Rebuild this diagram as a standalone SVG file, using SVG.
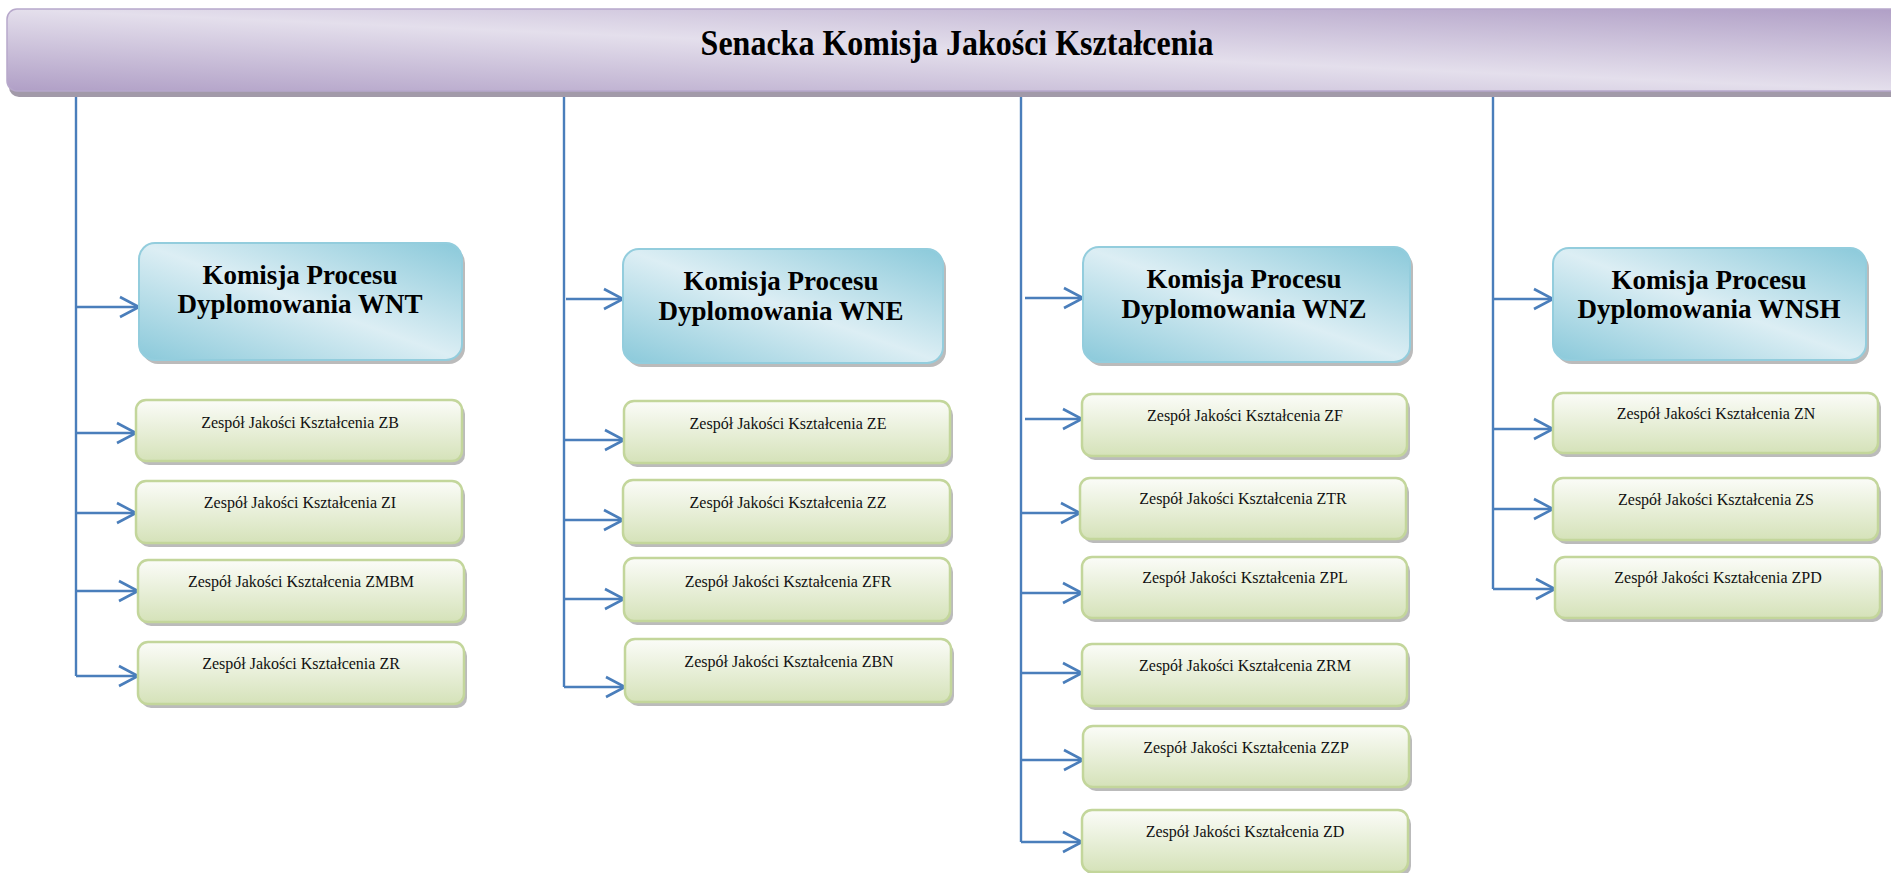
<svg xmlns="http://www.w3.org/2000/svg" width="1891" height="873" viewBox="0 0 1891 873">
<style>
.sh{fill:#8e8e8e;opacity:.6}
.g{fill:url(#gG);stroke:#c3d69b;stroke-width:2.5}
.b{fill:url(#gB);stroke:#93cddd;stroke-width:2}
.t{font-family:"Liberation Serif","Times New Roman",serif;font-size:16px;fill:#111;text-anchor:middle}
.h{font-family:"Liberation Serif","Times New Roman",serif;font-size:27px;font-weight:bold;fill:#000;text-anchor:middle}
.c{fill:none;stroke:#4a7ebb;stroke-width:2.4}
</style>
<defs>
<linearGradient id="gP" x1="0" y1="1" x2="1" y2="0">
<stop offset="0" stop-color="#b09fc6"/><stop offset="0.5" stop-color="#e4dfec"/><stop offset="1" stop-color="#b09fc6"/>
</linearGradient>
<linearGradient id="gB" x1="0" y1="1" x2="1" y2="0">
<stop offset="0" stop-color="#8ac9da"/><stop offset="0.5" stop-color="#dceef4"/><stop offset="1" stop-color="#8ac9da"/>
</linearGradient>
<linearGradient id="gG" x1="0" y1="0" x2="0" y2="1">
<stop offset="0" stop-color="#fbfcf8"/><stop offset="1" stop-color="#d5e2b9"/>
</linearGradient>
<marker id="ar" markerUnits="userSpaceOnUse" markerWidth="24" markerHeight="26" refX="21" refY="12" orient="auto">
<path d="M2,2 L21,12 L2,22" fill="none" stroke="#4a7ebb" stroke-width="2.6"/>
</marker>
</defs>
<rect width="1891" height="873" fill="#fff"/>

<g id="senat">
<rect x="9" y="13" width="1900" height="84" rx="10" fill="#a29aa9"/>
<rect x="7" y="9" width="1900" height="82" rx="10" fill="url(#gP)" stroke="#b7a8cb" stroke-width="1.5"/>
<text transform="translate(957,55) scale(1,1.12)" x="0" y="0" font-family="Liberation Serif,'Times New Roman',serif" font-size="32" font-weight="bold" text-anchor="middle" fill="#000">Senacka Komisja Jakości Kształcenia</text>
</g>

<g id="connectors">
<path class="c" d="M76,97 V676"/>
<path class="c" d="M77,307 H139" marker-end="url(#ar)"/>
<path class="c" d="M76,433 H136" marker-end="url(#ar)"/>
<path class="c" d="M76,513 H136" marker-end="url(#ar)"/>
<path class="c" d="M76,591 H138" marker-end="url(#ar)"/>
<path class="c" d="M76,676 H138" marker-end="url(#ar)"/>

<path class="c" d="M564,97 V687"/>
<path class="c" d="M566,299 H623" marker-end="url(#ar)"/>
<path class="c" d="M564,440 H624" marker-end="url(#ar)"/>
<path class="c" d="M564,520 H623" marker-end="url(#ar)"/>
<path class="c" d="M564,599 H624" marker-end="url(#ar)"/>
<path class="c" d="M564,687 H625" marker-end="url(#ar)"/>

<path class="c" d="M1021,97 V842"/>
<path class="c" d="M1025,298 H1083" marker-end="url(#ar)"/>
<path class="c" d="M1025,419 H1082" marker-end="url(#ar)"/>
<path class="c" d="M1021,513 H1080" marker-end="url(#ar)"/>
<path class="c" d="M1021,593 H1082" marker-end="url(#ar)"/>
<path class="c" d="M1021,673 H1082" marker-end="url(#ar)"/>
<path class="c" d="M1021,760 H1083" marker-end="url(#ar)"/>
<path class="c" d="M1021,842 H1082" marker-end="url(#ar)"/>

<path class="c" d="M1493,97 V589"/>
<path class="c" d="M1494,299 H1553" marker-end="url(#ar)"/>
<path class="c" d="M1493,429 H1553" marker-end="url(#ar)"/>
<path class="c" d="M1493,509 H1553" marker-end="url(#ar)"/>
<path class="c" d="M1493,589 H1555" marker-end="url(#ar)"/>
</g>

<g id="wnt">
<rect class="sh" x="142" y="247" width="323" height="117" rx="16"/>
<rect class="b" x="139" y="243" width="323" height="117" rx="16"/>
<text class="h" x="300" y="284">Komisja Procesu</text>
<text class="h" x="300" y="313">Dyplomowania WNT</text>
</g>
<g id="zb"><rect class="sh" x="139" y="404" width="326" height="61" rx="10"/><rect class="g" x="136" y="400" width="326" height="61" rx="10"/><text class="t" x="300" y="428">Zespół Jakości Kształcenia ZB</text></g>
<g id="zi"><rect class="sh" x="139" y="485" width="326" height="62" rx="10"/><rect class="g" x="136" y="481" width="326" height="62" rx="10"/><text class="t" x="300" y="508">Zespół Jakości Kształcenia ZI</text></g>
<g id="zmbm"><rect class="sh" x="141" y="564" width="326" height="62" rx="10"/><rect class="g" x="138" y="560" width="326" height="62" rx="10"/><text class="t" x="301" y="587">Zespół Jakości Kształcenia ZMBM</text></g>
<g id="zr"><rect class="sh" x="141" y="646" width="326" height="62" rx="10"/><rect class="g" x="138" y="642" width="326" height="62" rx="10"/><text class="t" x="301" y="669">Zespół Jakości Kształcenia ZR</text></g>

<g id="wne">
<rect class="sh" x="626" y="253" width="320" height="114" rx="16"/>
<rect class="b" x="623" y="249" width="320" height="114" rx="16"/>
<text class="h" x="781" y="290">Komisja Procesu</text>
<text class="h" x="781" y="320">Dyplomowania WNE</text>
</g>
<g id="ze"><rect class="sh" x="627" y="405" width="326" height="62" rx="10"/><rect class="g" x="624" y="401" width="326" height="62" rx="10"/><text class="t" x="788" y="429">Zespół Jakości Kształcenia ZE</text></g>
<g id="zz"><rect class="sh" x="626" y="484" width="327" height="63" rx="10"/><rect class="g" x="623" y="480" width="327" height="63" rx="10"/><text class="t" x="788" y="508">Zespół Jakości Kształcenia ZZ</text></g>
<g id="zfr"><rect class="sh" x="627" y="562" width="326" height="63" rx="10"/><rect class="g" x="624" y="558" width="326" height="63" rx="10"/><text class="t" x="788" y="587">Zespół Jakości Kształcenia ZFR</text></g>
<g id="zbn"><rect class="sh" x="628" y="643" width="326" height="63" rx="10"/><rect class="g" x="625" y="639" width="326" height="63" rx="10"/><text class="t" x="789" y="667">Zespół Jakości Kształcenia ZBN</text></g>

<g id="wnz">
<rect class="sh" x="1086" y="251" width="327" height="115" rx="16"/>
<rect class="b" x="1083" y="247" width="327" height="115" rx="16"/>
<text class="h" x="1244" y="288">Komisja Procesu</text>
<text class="h" x="1244" y="318">Dyplomowania WNZ</text>
</g>
<g id="zf"><rect class="sh" x="1085" y="398" width="325" height="62" rx="10"/><rect class="g" x="1082" y="394" width="325" height="62" rx="10"/><text class="t" x="1245" y="421">Zespół Jakości Kształcenia ZF</text></g>
<g id="ztr"><rect class="sh" x="1083" y="482" width="326" height="61" rx="10"/><rect class="g" x="1080" y="478" width="326" height="61" rx="10"/><text class="t" x="1243" y="504">Zespół Jakości Kształcenia ZTR</text></g>
<g id="zpl"><rect class="sh" x="1085" y="561" width="325" height="61" rx="10"/><rect class="g" x="1082" y="557" width="325" height="61" rx="10"/><text class="t" x="1245" y="583">Zespół Jakości Kształcenia ZPL</text></g>
<g id="zrm"><rect class="sh" x="1085" y="648" width="325" height="62" rx="10"/><rect class="g" x="1082" y="644" width="325" height="62" rx="10"/><text class="t" x="1245" y="671">Zespół Jakości Kształcenia ZRM</text></g>
<g id="zzp"><rect class="sh" x="1086" y="730" width="326" height="61" rx="10"/><rect class="g" x="1083" y="726" width="326" height="61" rx="10"/><text class="t" x="1246" y="753">Zespół Jakości Kształcenia ZZP</text></g>
<g id="zd"><rect class="sh" x="1085" y="814" width="326" height="62" rx="10"/><rect class="g" x="1082" y="810" width="326" height="62" rx="10"/><text class="t" x="1245" y="837">Zespół Jakości Kształcenia ZD</text></g>

<g id="wnsh">
<rect class="sh" x="1556" y="252" width="313" height="112" rx="16"/>
<rect class="b" x="1553" y="248" width="313" height="112" rx="16"/>
<text class="h" x="1709" y="289">Komisja Procesu</text>
<text class="h" x="1709" y="318">Dyplomowania WNSH</text>
</g>
<g id="zn"><rect class="sh" x="1556" y="397" width="325" height="60" rx="10"/><rect class="g" x="1553" y="393" width="325" height="60" rx="10"/><text class="t" x="1716" y="419">Zespół Jakości Kształcenia ZN</text></g>
<g id="zs"><rect class="sh" x="1556" y="482" width="325" height="62" rx="10"/><rect class="g" x="1553" y="478" width="325" height="62" rx="10"/><text class="t" x="1716" y="505">Zespół Jakości Kształcenia ZS</text></g>
<g id="zpd"><rect class="sh" x="1558" y="561" width="325" height="61" rx="10"/><rect class="g" x="1555" y="557" width="325" height="61" rx="10"/><text class="t" x="1718" y="583">Zespół Jakości Kształcenia ZPD</text></g>
</svg>
